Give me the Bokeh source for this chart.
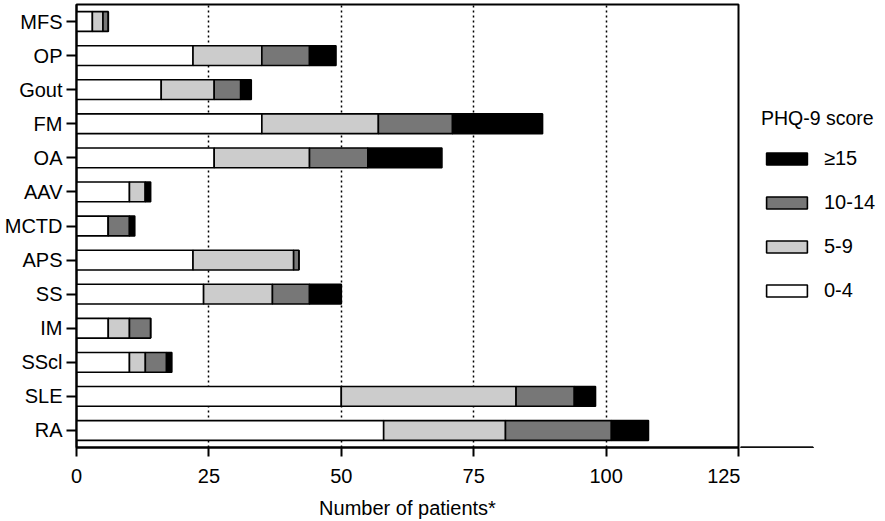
from bokeh.plotting import figure
from bokeh.layouts import row
from bokeh.models import ColumnDataSource, FactorRange, Legend, LegendItem, Range1d, FixedTicker
from bokeh.embed import file_html
from bokeh.resources import INLINE

# ---- data ----
conditions = ["MFS", "OP", "Gout", "FM", "OA", "AAV", "MCTD", "APS", "SS", "IM", "SScl", "SLE", "RA"]
score_0_4 = [3, 22, 16, 35, 26, 10, 6, 22, 24, 6, 10, 50, 58]
score_5_9 = [2, 13, 10, 22, 18, 3, 0, 19, 13, 4, 3, 33, 23]
score_10_14 = [1, 9, 5, 14, 11, 0, 4, 1, 7, 4, 4, 11, 20]
score_15_plus = [0, 5, 2, 17, 14, 1, 1, 0, 6, 0, 1, 4, 7]
score_groups = ["0-4", "5-9", "10-14", "\u226515"]
x_ticks = [0, 25, 50, 75, 100, 125]

colors = ["#ffffff", "#cccccc", "#777777", "#000000"]
FONT = "Liberation Sans"
FS = "20px"

source = ColumnDataSource(dict(
    condition=conditions,
    g0=score_0_4, g1=score_5_9, g2=score_10_14, g3=score_15_plus,
))
stackers = ["g0", "g1", "g2", "g3"]

p = figure(
    width=740, height=521,
    y_range=FactorRange(factors=list(reversed(conditions)), range_padding=0),
    x_range=Range1d(0, 125),
    output_backend="svg", toolbar_location=None,
    min_border_top=4, min_border_left=76, min_border_bottom=74, min_border_right=2,
)

p.hbar_stack(
    stackers, y="condition", height=0.58, source=source,
    fill_color=colors, line_color="black", line_width=1.6,
)

# frame / axes
p.outline_line_color = "black"
p.outline_line_width = 2
p.background_fill_color = "white"
p.border_fill_color = "white"

p.xaxis.ticker = FixedTicker(ticks=x_ticks)
p.xaxis.axis_label = "Number of patients*"
p.xaxis.axis_label_text_font = FONT
p.xaxis.axis_label_text_font_size = FS
p.xaxis.axis_label_text_font_style = "normal"
p.xaxis.axis_label_text_color = "black"
p.xaxis.axis_label_standoff = 11
p.xaxis.major_label_standoff = 12

for ax in (p.xaxis, p.yaxis):
    ax.axis_line_color = "black"
    ax.axis_line_width = 2
    ax.major_tick_line_color = "black"
    ax.major_tick_line_width = 2
    ax.major_tick_in = 0
    ax.minor_tick_line_color = None
    ax.major_label_text_font = FONT
    ax.major_label_text_color = "black"
    ax.major_label_text_font_size = FS

p.xaxis.major_tick_out = 9
p.yaxis.major_tick_out = 10
p.yaxis.major_label_standoff = 4

p.xgrid.grid_line_color = "black"
p.xgrid.grid_line_dash = "2 3"
p.xgrid.grid_line_width = 1.5
p.ygrid.grid_line_color = None

# ---- legend panel (separate canvas to the right of the plot) ----
pl = figure(
    width=145, height=521, x_range=Range1d(0, 1), y_range=Range1d(0, 1),
    output_backend="svg", toolbar_location=None,
    x_axis_location=None, y_axis_location=None,
    min_border=0, outline_line_color=None,
)
pl.grid.grid_line_color = None
swatches = []
for c in colors:
    r = pl.hbar(y=[-10], left=[0], right=[0.5], height=0.5,
                fill_color=c, line_color="black", line_width=1.6)
    swatches.append(r)

items = [LegendItem(label=g, renderers=[r]) for g, r in zip(score_groups, swatches)]
items = list(reversed(items))
legend = Legend(
    items=items, title="PHQ-9 score",
    title_text_font=FONT, title_text_font_size="19.5px", title_text_font_style="normal",
    title_text_color="black", title_standoff=17,
    label_text_font=FONT, label_text_font_size=FS, label_text_color="black",
    glyph_width=51, glyph_height=15, label_standoff=12, spacing=21,
    padding=0, margin=0, border_line_color=None, background_fill_alpha=0,
    location=(21, 145),
)
pl.add_layout(legend)

layout = row(p, pl)
open("out.html", "w").write(file_html(layout, INLINE))
